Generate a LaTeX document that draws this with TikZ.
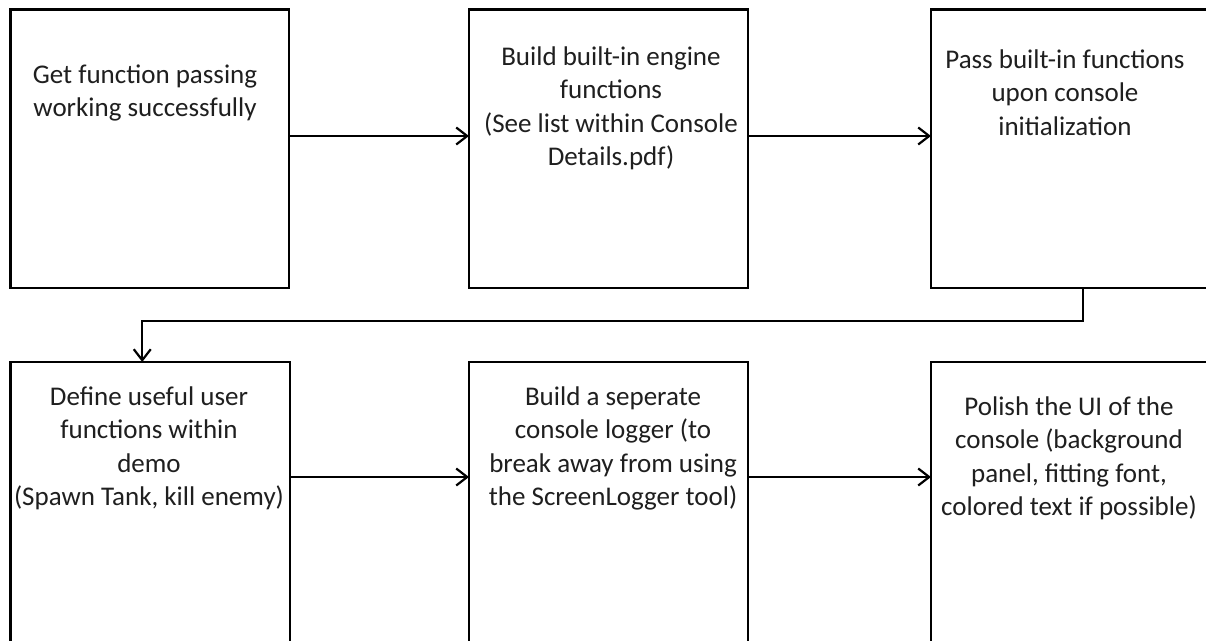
\documentclass[tikz,border=0pt]{standalone}
\usepackage{fontspec}
\setmainfont{Carlito}
\usetikzlibrary{arrows.meta}
\begin{document}
\begin{tikzpicture}[x=1pt,y=-1pt,
  box/.style={draw=black,line width=2.8pt,rectangle,outer sep=0pt,inner sep=0pt,anchor=north west},
  lbl/.style={anchor=north,inner sep=0pt,align=center,text=black!88,font=\fontsize{27}{33.5}\selectfont},
  conn/.style={draw=black,line width=2.2pt,-{Straight Barb[length=11pt,width=17pt,line width=2.2pt]}}]
\useasboundingbox (0,0) rectangle (1206,640);
\clip (0,0) rectangle (1206,640);
\fill[white] (0,0) rectangle (1206,640);
% boxes
\node[box,minimum width=278.5pt,minimum height=278.5pt] (b1) at (10.5,9.5) {};
\node[box,minimum width=279pt,minimum height=278.5pt] (b2) at (469,9.5) {};
\node[box,minimum width=304pt,minimum height=278.5pt] (b3) at (931,9.5) {};
\node[box,minimum width=279.5pt,minimum height=298pt] (b4) at (10.5,362) {};
\node[box,minimum width=279pt,minimum height=298pt] (b5) at (469,362) {};
\node[box,minimum width=304pt,minimum height=298pt] (b6) at (931,362) {};
% texts
\node[lbl] (t1) at (145,59.5) {\strut Get function passing\\working successfully};
\node[lbl] (t2) at (611,41.5) {\strut Build built-in engine\\functions\\(See list within Console\\Details.pdf)};
\node[lbl] (t3) at (1065,44.5) {\strut Pass built-in functions\\upon console\\initialization};
\node[lbl] (t4) at (149,381.5) {\strut Define useful user\\functions within\\demo\\(Spawn Tank, kill enemy)};
\node[lbl] (t5) at (613,381.5) {\strut Build a seperate\\console logger (to\\break away from using\\the ScreenLogger tool)};
\node[lbl] (t6) at (1069,391.5) {\strut Polish the UI of the\\console (background\\panel, fitting font,\\colored text if possible)};
% connectors
\draw[conn] ([yshift=12.75pt]b1.east) -- ([yshift=12.75pt]b2.west);
\draw[conn] ([yshift=12.75pt]b2.east) -- ([yshift=12.75pt]b3.west);
\draw[conn] (b3.south) -- ++(0,33) -| ([xshift=-8pt]b4.north);
\draw[conn] ([yshift=34pt]b4.east) -- ([yshift=34pt]b5.west);
\draw[conn] ([yshift=34pt]b5.east) -- ([yshift=34pt]b6.west);
\end{tikzpicture}
\end{document}
